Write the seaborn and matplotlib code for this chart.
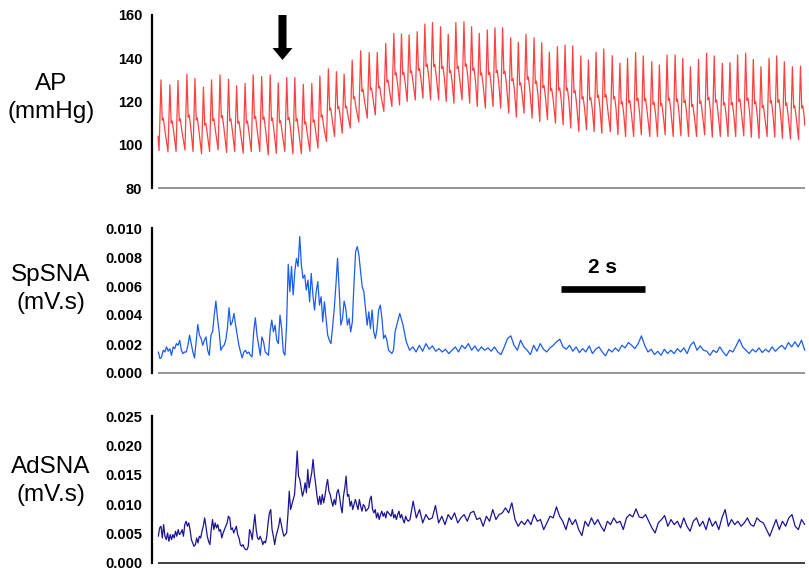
import numpy as np
import pandas as pd
import matplotlib
matplotlib.use("Agg")
import matplotlib.pyplot as plt
import seaborn as sns

# ---------------- data ----------------
# AP: beat peak times (s), systolic peaks and preceding diastolic troughs (mmHg)
ap_peak_t = [0.07, 0.28, 0.47, 0.68, 0.87, 1.07, 1.26, 1.46, 1.66, 1.85,
             2.05, 2.24, 2.44, 2.64, 2.83, 3.03, 3.22, 3.42, 3.62, 3.81,
             4.01, 4.20, 4.38, 4.57, 4.77, 4.97, 5.16, 5.36, 5.55, 5.73,
             5.91, 6.10, 6.28, 6.46, 6.65, 6.83, 7.01, 7.20, 7.38,
             7.56, 7.75, 7.93, 8.11, 8.30, 8.48, 8.66, 8.85, 9.03, 9.21,
             9.40, 9.58, 9.76, 9.95, 10.13, 10.31, 10.49, 10.69, 10.87, 11.05,
             11.24, 11.42, 11.62, 11.80, 11.98, 12.17, 12.35, 12.53, 12.72, 12.91,
             13.09, 13.28, 13.46, 13.64, 13.83, 14.01, 14.19, 14.38, 14.56, 14.74,
             14.93, 15.12]
ap_sys = [130.0, 127.7, 129.7, 132.7, 130.7, 126.6, 130.0, 132.3, 130.3, 127.2,
          128.4, 132.3, 131.5, 132.3, 128.7, 131.1, 131.1, 128.0, 128.4, 131.8,
          135.1, 133.8, 132.7, 139.2, 143.5, 142.6, 142.7, 146.9, 151.5, 151.2,
          150.8, 152.3, 155.8, 156.5, 154.6, 151.1, 156.5, 156.9, 154.6,
          151.5, 153.1, 154.1, 154.1, 149.5, 147.4, 151.1, 149.5, 147.2, 142.8,
          145.4, 146.1, 145.7, 141.1, 139.2, 142.8, 144.3, 141.2, 137.7, 140.0,
          142.6, 141.1, 138.4, 136.9, 141.5, 141.5, 140.0, 136.1, 139.5, 142.3,
          141.1, 137.7, 138.0, 141.5, 142.3, 139.5, 136.1, 140.0, 141.1, 138.4,
          136.1, 136.4]
ap_dia = [97.3, 96.7, 96.9, 97.6, 96.9, 95.8, 96.9, 97.6, 96.4, 96.9,
          96.1, 96.9, 96.9, 95.3, 96.1, 96.9, 95.8, 95.8, 97.0, 98.4,
          101.5, 103.8, 105.3, 107.7, 110.5, 112.3, 113.8, 115.4, 117.7, 118.4,
          120.0, 120.7, 121.5, 120.7, 120.7, 120.0, 119.2, 120.7, 119.2,
          117.7, 116.9, 117.7, 116.9, 114.6, 112.7, 114.6, 112.3, 110.7, 111.5,
          110.0, 109.2, 107.7, 106.1, 106.9, 106.1, 105.3, 106.1, 104.6, 103.8,
          103.8, 104.6, 103.8, 103.8, 104.6, 103.8, 104.1, 103.8, 103.8, 104.6,
          103.5, 103.8, 103.8, 103.8, 104.1, 103.5, 103.0, 103.8, 103.5, 103.0,
          102.6, 102.3]
ap_start, ap_end = 104.0, 109.0
ap_span = (0.0, 15.22)

# SpSNA (x1e-3 mV.s), two stretches of the trace
sp_seg1 = [1.45, 0.99, 1.11, 1.57, 1.45, 1.80, 1.50, 1.68, 1.22, 1.80, 1.68, 2.03, 1.91, 2.26, 1.57,
           1.34, 1.45, 1.45, 1.91, 2.61, 2.03, 1.45, 1.04, 2.15, 3.35, 2.61, 2.38, 1.91, 2.26, 2.49,
           1.57, 1.22, 2.61, 2.84, 3.99, 4.96, 3.76, 2.84, 1.57, 1.80, 1.91, 2.26, 3.07, 4.50, 3.30,
           3.53, 4.11, 3.30, 2.61, 1.91, 1.45, 1.04, 1.45, 1.57, 1.34, 1.45, 1.22, 1.11, 2.84, 3.81,
           2.61, 1.91, 1.22, 2.49, 2.15, 1.45, 1.34, 1.22, 2.88, 3.65, 2.84, 3.30, 2.26, 2.03, 3.99,
           3.07, 1.45, 1.22, 3.30, 7.50, 5.61, 7.34, 5.38, 6.99, 7.91, 7.34, 9.41, 7.45, 6.53, 6.76,
           5.72, 6.41, 4.91, 6.87, 5.38, 4.34, 5.61, 6.30, 4.68, 5.26, 3.53, 4.91, 3.76, 2.61, 2.26,
           2.03, 3.18, 4.45, 6.07, 7.91, 5.72, 3.30, 3.76, 4.96, 4.45, 3.30, 3.76, 2.84, 3.53, 6.18,
           8.37, 8.72, 8.14, 6.99, 5.95, 5.61, 4.45, 3.30, 4.22, 3.07, 4.34, 2.84, 2.38, 3.07, 4.34,
           4.68, 3.76, 2.38, 2.61, 2.26, 1.57, 1.45, 1.34, 1.57, 2.84]
sp_seg2 = [4.11, 3.30, 2.15, 1.57, 1.80, 1.45, 1.91, 1.50, 2.03, 1.64, 1.87, 1.50, 1.68, 1.45, 1.64,
           1.34, 1.57, 1.80, 1.45, 1.91, 1.68, 2.03, 1.57, 1.87, 1.50, 1.80, 1.57, 1.73, 1.50, 1.80,
           1.45, 1.27, 1.80, 2.38, 2.56, 1.91, 1.57, 2.26, 1.80, 1.57, 1.27, 1.91, 1.50, 2.03, 1.64,
           1.45, 1.73, 1.91, 2.15, 2.33, 1.80, 1.64, 1.91, 1.50, 1.80, 1.41, 1.68, 1.45, 1.87, 1.34,
           1.64, 1.80, 1.45, 1.18, 1.64, 1.45, 1.73, 1.50, 1.91, 1.73, 2.10, 1.91, 1.68, 2.03, 2.56,
           1.91, 1.45, 1.64, 1.27, 1.50, 1.22, 1.64, 1.34, 1.57, 1.34, 1.68, 1.45, 1.73, 1.34, 1.91,
           2.15, 1.57, 1.87, 1.57, 1.50, 1.22, 1.57, 1.41, 1.80, 1.45, 1.18, 1.57, 1.45, 1.87, 2.33,
           1.80, 1.57, 1.34, 1.64, 1.45, 1.73, 1.41, 1.64, 1.45, 1.80, 1.50, 1.73, 1.91, 1.64, 2.10,
           1.80, 2.15, 1.80, 2.26, 1.57]
sp_span1 = (0.008, 5.58)
sp_span2 = (5.69, 15.22)

# AdSNA (x1e-3 mV.s), two stretches of the trace
ad_seg1 = [4.55, 5.97, 6.25, 4.26, 6.53, 4.55, 3.98, 5.11, 3.69, 4.83, 3.98, 4.83, 4.26, 5.40, 4.55,
           5.68, 4.83, 5.11, 5.68, 4.55, 6.53, 7.10, 6.25, 6.82, 5.68, 3.98, 3.41, 2.84, 3.13, 4.26,
           3.41, 4.55, 4.26, 5.40, 6.25, 7.67, 6.25, 4.55, 3.69, 3.13, 5.68, 7.39, 5.68, 6.82, 5.97,
           6.53, 5.40, 5.68, 4.26, 5.11, 5.68, 6.25, 6.82, 7.95, 7.67, 5.68, 5.97, 5.11, 5.68, 6.25,
           4.83, 4.26, 3.13, 2.84, 3.13, 2.56, 2.27, 2.27, 2.84, 5.68, 5.11, 3.98, 6.25, 8.24, 5.68,
           4.26, 3.98, 4.55, 3.98, 3.13, 3.69, 3.41, 4.55, 6.82, 8.52, 9.09, 5.68, 4.55, 3.13, 4.55,
           5.40, 6.25, 7.67, 6.53, 5.40, 4.55, 4.83, 5.11, 8.24, 12.22, 9.09, 9.94, 10.80, 11.65, 15.06,
           19.03, 14.77, 14.20, 12.78, 11.36, 12.22, 13.64, 11.93, 15.91, 12.78, 14.20, 15.34, 17.61, 15.06, 13.35,
           11.36, 9.94, 11.36, 9.94, 11.65, 10.23, 11.36, 13.07, 14.20, 12.22, 11.65, 10.51, 9.66, 10.80, 9.94,
           11.93, 12.50, 11.36, 9.66, 8.52, 11.36, 12.78, 14.77, 11.36, 11.65, 9.66, 10.51, 9.09, 9.94, 10.80,
           9.94, 9.09, 10.80, 9.66, 8.81, 9.94, 9.66, 8.81, 9.09, 9.38, 10.80, 11.36, 9.09, 8.52, 9.09,
           7.67, 8.52, 7.39, 8.24, 8.81, 7.95, 8.52, 7.67, 8.81, 8.52, 8.24, 7.95, 9.09, 7.67, 8.24,
           7.39, 8.24, 8.81, 7.67, 8.24, 7.39, 6.82, 7.95, 7.39, 7.10]
ad_seg2 = [7.39, 10.51, 7.67, 9.09, 6.82, 8.24, 7.39, 7.67, 9.77, 6.82, 7.95, 6.53, 8.24, 7.39, 8.52,
           6.82, 7.67, 8.24, 7.10, 8.52, 8.81, 7.39, 7.67, 6.25, 7.95, 7.10, 9.09, 7.39, 8.24, 8.52,
           9.38, 8.52, 10.23, 7.39, 6.25, 7.10, 6.53, 7.39, 6.53, 8.24, 7.10, 7.39, 5.68, 6.82, 7.95,
           7.67, 9.55, 7.95, 7.10, 5.68, 7.67, 6.53, 7.39, 5.68, 4.66, 7.10, 6.25, 7.67, 6.53, 7.39,
           6.25, 5.40, 7.10, 6.53, 7.67, 6.82, 7.10, 5.68, 7.67, 8.24, 7.84, 9.20, 7.84, 7.67, 8.24,
           7.10, 5.97, 5.11, 6.82, 7.39, 8.07, 6.25, 7.39, 6.53, 7.10, 5.97, 7.67, 6.25, 5.40, 7.10,
           7.67, 6.25, 7.10, 5.68, 7.67, 6.25, 7.10, 5.68, 7.67, 9.09, 6.25, 7.39, 6.53, 7.10, 6.25,
           6.82, 7.67, 6.53, 6.25, 7.67, 7.10, 6.82, 5.68, 4.55, 5.97, 7.39, 5.68, 7.10, 6.25, 7.67,
           8.24, 6.25, 5.68, 7.39, 6.53]
ad_span1 = (0.008, 5.89)
ad_span2 = (5.93, 15.22)

ap_ticks = [80, 100, 120, 140, 160]
sp_ticks = [0.000, 0.002, 0.004, 0.006, 0.008, 0.010]
ad_ticks = [0.000, 0.005, 0.010, 0.015, 0.020, 0.025]
labels = ["AP\n(mmHg)", "SpSNA\n(mV.s)", "AdSNA\n(mV.s)"]

scalebar_t = (9.475, 11.46)
scalebar_label = "2 s"
arrow_t = 2.93

# ---------------- build AP waveform from beats ----------------
shape_dt = [0.03, 0.055, 0.09]       # notch, hump, decline (s after peak)
shape_frac = [0.43, 0.46, 0.30]
rise = 0.045
t_ap = [ap_span[0]]
v_ap = [ap_start]
for tp, s, d in zip(ap_peak_t, ap_sys, ap_dia):
    t_ap.append(tp - rise); v_ap.append(d)
    t_ap.append(tp); v_ap.append(s)
    for dt, f in zip(shape_dt, shape_frac):
        t_ap.append(tp + dt); v_ap.append(d + f * (s - d))
t_ap.append(ap_span[1]); v_ap.append(ap_end)
df_ap = pd.DataFrame({"t": t_ap, "v": v_ap})

def seg_frame(vals, span):
    return pd.DataFrame({"t": np.linspace(span[0], span[1], len(vals)),
                         "v": np.asarray(vals) * 1e-3})

df_sp = pd.concat([seg_frame(sp_seg1, sp_span1), seg_frame(sp_seg2, sp_span2)])
df_ad = pd.concat([seg_frame(ad_seg1, ad_span1), seg_frame(ad_seg2, ad_span2)])

# ---------------- figure ----------------
sns.set_style("white")
plt.rcParams["font.family"] = ["Liberation Sans", "DejaVu Sans"]
plt.rcParams["text.color"] = "black"
plt.rcParams["ytick.color"] = "black"
plt.rcParams["ytick.labelcolor"] = "black"

W, H = 809, 574
fig = plt.figure(figsize=(W / 100, H / 100), dpi=100)
left = 152 / W
right = 806 / W
def box(top_px, bot_px):
    return [left, 1 - bot_px / H, right - left, (bot_px - top_px) / H]

ax1 = fig.add_axes(box(15, 188))
ax2 = fig.add_axes(box(228, 373))
ax3 = fig.add_axes(box(416, 563))

xlim = (-0.141, 15.25)
panels = [
    (ax1, df_ap, "#ff4040", 0.9, ap_ticks, (80, 160), lambda v: f"{v:d}", "#8c8c8c"),
    (ax2, df_sp, "#1a5cf0", 0.9, sp_ticks, (0, 0.010), lambda v: f"{v:.3f}", "#8c8c8c"),
    (ax3, df_ad, "#1c1494", 0.9, ad_ticks, (0, 0.025), lambda v: f"{v:.3f}", "#303030"),
]
for ax, df, col, lw, ticks, ylim, fmt, basecol in panels:
    sns.lineplot(data=df, x="t", y="v", ax=ax, color=col, lw=lw,
                 estimator=None, sort=False)
    ax.set_xlim(*xlim)
    ax.set_ylim(*ylim)
    ax.set_yticks(ticks)
    ax.set_yticklabels([fmt(v) for v in ticks], fontweight="bold", fontsize=10.5,
                       color="black")
    ax.set_xticks([])
    ax.set_xlabel("")
    ax.set_ylabel("")
    for s in ["top", "right", "bottom"]:
        ax.spines[s].set_visible(False)
    ax.spines["left"].set_linewidth(1.6)
    ax.spines["left"].set_color("black")
    ax.tick_params(axis="y", direction="out", length=4, width=1.3, pad=3, color="black")
    ax.plot([0.0, 15.22], [ylim[0], ylim[0]], color=basecol, lw=1.3,
            clip_on=False, solid_capstyle="butt")
    ax.set_facecolor("none")

# left panel labels
label_y = [98, 289, 481]
for lab, ypx in zip(labels, label_y):
    fig.text(51 / W, 1 - ypx / H, lab, ha="center", va="center",
             fontsize=17.5, linespacing=1.3, color="black")

# arrow marker on AP
ax1.annotate("", xy=(arrow_t, 139.2), xytext=(arrow_t, 160),
             arrowprops=dict(facecolor="black", edgecolor="none", width=5.8,
                             headwidth=14.4, headlength=8.6, shrink=0.0),
             annotation_clip=False)

# 2 s scale bar on SpSNA
ax2.plot(list(scalebar_t), [0.0058, 0.0058], color="black", lw=4.8,
         solid_capstyle="butt", clip_on=False)
ax2.text(np.mean(scalebar_t), 0.00727, scalebar_label, ha="center", va="center",
         fontsize=15, fontweight="bold", color="black")

fig.savefig("out.png", dpi=100)
